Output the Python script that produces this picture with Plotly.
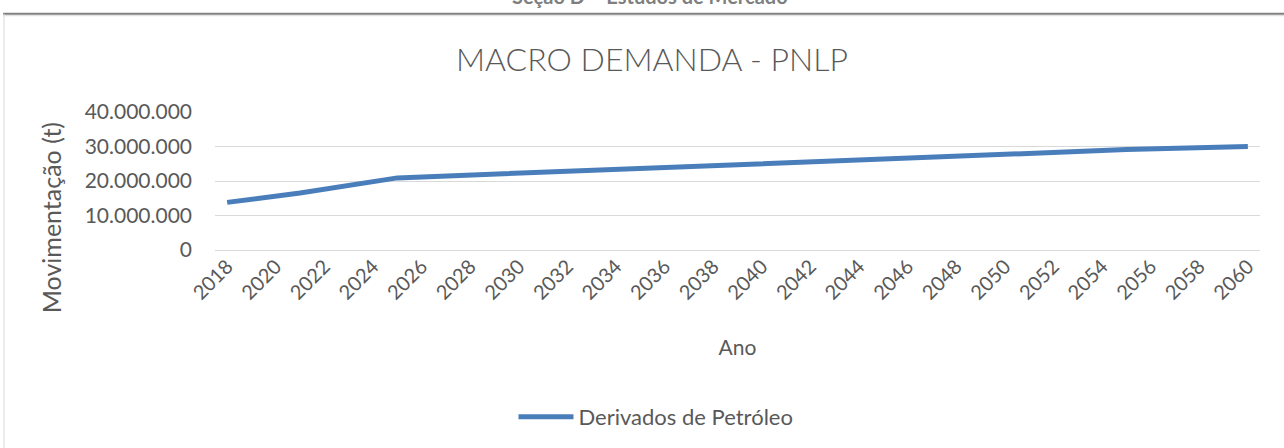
import plotly.graph_objects as go

# Data
years = [2018, 2021, 2025, 2030, 2035, 2040, 2045, 2050, 2055, 2060]
derivados = [13800000, 16500000, 20900000, 22300000, 23700000, 25100000,
             26400000, 27800000, 29100000, 30000000]
tick_years = list(range(2018, 2061, 2))
y_ticks = [0, 10000000, 20000000, 30000000, 40000000]
y_tick_labels = ["0", "10.000.000", "20.000.000", "30.000.000", "40.000.000"]

W, H = 1284, 448
L, R, T, B = 215, 1260, 112, 251  # plot area in px
FONT = "Lato"
GREY = "#595959"


def px(x):
    return (x - L) / (R - L)


def py(y):
    return (B - y) / (B - T)


fig = go.Figure()
fig.add_trace(go.Scatter(
    x=years, y=derivados, mode="lines", name="Derivados de Petróleo",
    line=dict(color="#4a7ebb", width=5),
))

fig.update_layout(
    width=W, height=H,
    margin=dict(l=L, r=W - R, t=T, b=H - B, pad=0),
    paper_bgcolor="white", plot_bgcolor="white",
    font=dict(family=FONT, color=GREY, size=17),
    showlegend=True,
    legend=dict(orientation="h", x=px(656), xanchor="center", y=py(417),
                yanchor="middle", font=dict(size=22, color=GREY),
                itemwidth=55, bgcolor="rgba(0,0,0,0)"),
    title=dict(text="MACRO DEMANDA - PNLP", x=px(652), xref="paper",
               xanchor="center", y=1 - 60 / H, yanchor="middle",
               font=dict(size=32, color=GREY, family=FONT, weight=300)),
)

fig.update_xaxes(
    range=[2017.5, 2060.5], tickmode="array", tickvals=tick_years,
    ticktext=[str(y) for y in tick_years], tickangle=-45,
    showgrid=False, zeroline=False, showline=False, ticks="",
    tickfont=dict(size=20, color=GREY),
    title=dict(text="Ano", font=dict(size=21, color=GREY), standoff=37),
)
fig.update_yaxes(
    range=[0, 40000000], tickmode="array", tickvals=y_ticks,
    ticktext=y_tick_labels, showgrid=True, gridcolor="#d9d9d9", gridwidth=1,
    zeroline=True, zerolinecolor="#d9d9d9", zerolinewidth=1,
    showline=False, ticks="", ticklabelstandoff=22,
    tickfont=dict(size=21, color=GREY),
)

# y-axis title (placed like the reference, centred lower than the plot area)
fig.add_annotation(text="Movimentação (t)", xref="paper", yref="paper",
                   x=px(51), y=py(219), xanchor="center", yanchor="middle",
                   textangle=-90, showarrow=False,
                   font=dict(size=25, color=GREY, family=FONT))

# chart frame
fig.add_shape(type="line", xref="paper", yref="paper",
              x0=px(3), x1=px(W + 5), y0=py(13), y1=py(13),
              line=dict(color="#808080", width=2))
fig.add_shape(type="line", xref="paper", yref="paper",
              x0=px(3), x1=px(W + 5), y0=py(15), y1=py(15),
              line=dict(color="#dcdcdc", width=1))
fig.add_shape(type="line", xref="paper", yref="paper",
              x0=px(4), x1=px(4), y0=py(13), y1=py(H + 5),
              line=dict(color="#d9d9d9", width=1))

# page header (cut off at the top edge, as in the reference)
fig.add_annotation(text="<b>Seção D – Estudos de Mercado</b>", xref="paper",
                   yref="paper", x=px(650), y=py(9), xanchor="center",
                   yanchor="bottom", showarrow=False,
                   font=dict(size=20, color="#7f7f7f", family=FONT))

fig.write_html(
    "out.html",
    config={"displayModeBar": False},
    post_script="document.body.style.margin='0';document.body.style.overflow='hidden';",
)
